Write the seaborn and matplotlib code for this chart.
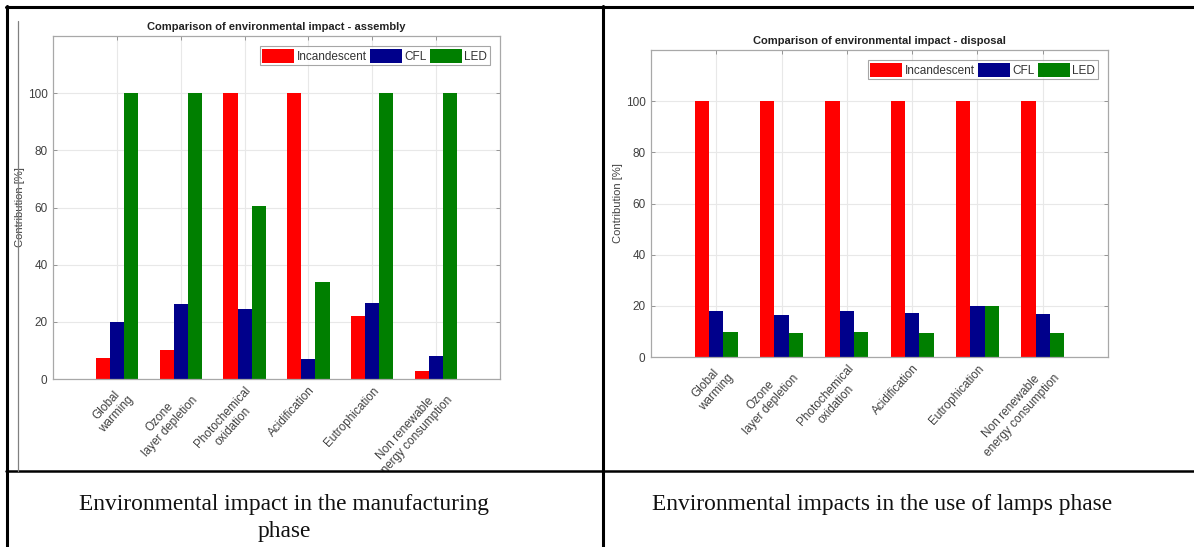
import matplotlib
matplotlib.use("Agg")
import matplotlib.pyplot as plt
from matplotlib.lines import Line2D
from matplotlib.transforms import Bbox
import seaborn as sns
import pandas as pd

# Data
categories = ["Global\nwarming", "Ozone\nlayer depletion", "Photochemical\noxidation",
              "Acidification", "Eutrophication", "Non renewable\nenergy consumption"]
lamps = ["Incandescent", "CFL", "LED"]

assembly_incandescent = [7.5, 10.0, 100.0, 100.0, 22.1, 2.9]
assembly_cfl = [20.1, 26.4, 24.6, 6.9, 26.5, 8.1]
assembly_led = [100.0, 100.0, 60.5, 33.9, 100.0, 100.0]

disposal_incandescent = [100.0, 100.0, 100.0, 100.0, 100.0, 100.0]
disposal_cfl = [17.8, 16.6, 17.8, 17.3, 19.9, 17.0]
disposal_led = [9.9, 9.2, 9.9, 9.5, 19.9, 9.5]

titles = ["Comparison of environmental impact - assembly",
          "Comparison of environmental impact - disposal"]
captions = ["Environmental impact in the manufacturing\nphase",
            "Environmental impacts in the use of lamps phase"]
colors = ["#ff0000", "#00008b", "#007f00"]


def long_table(inc, cfl, led):
    rows = []
    for lamp, vals in zip(lamps, [inc, cfl, led]):
        for cat, v in zip(categories, vals):
            rows.append({"Impact": cat, "Lamp": lamp, "Contribution": v})
    return pd.DataFrame(rows)


sns.set_theme(style="whitegrid")
plt.rcParams["font.family"] = ["Liberation Sans", "DejaVu Sans"]

W, H = 1194, 547
fig = plt.figure(figsize=(W / 100, H / 100), dpi=100)


def px_axes(left, top, right, bottom):
    return fig.add_axes([left / W, 1 - bottom / H, (right - left) / W, (bottom - top) / H])


def draw_panel(ax, df, title, clip_bottom):
    sns.barplot(data=df, x="Impact", y="Contribution", hue="Lamp", hue_order=lamps,
                order=categories, palette=colors, width=0.66, gap=0, saturation=1,
                edgecolor="none", linewidth=0, ax=ax)
    ax.set_xlim(-1, 6)
    ax.set_ylim(0, 120)
    ax.set_yticks([0, 20, 40, 60, 80, 100])
    ax.set_facecolor("white")
    ax.grid(True, color="#e8e8e8", linewidth=0.8)
    ax.set_axisbelow(True)
    for s in ax.spines.values():
        s.set_color("#a8a8a8")
        s.set_linewidth(0.9)
    ax.tick_params(direction="in", length=3, width=0.6, color="#888888",
                   top=True, right=True, bottom=True, left=True,
                   labelsize=8.5, labelcolor="#404040", pad=4)
    ax.set_xlabel("")
    ax.set_ylabel("Contribution [%]", fontsize=8, color="#404040", labelpad=2)
    ax.set_title(title, fontsize=8, fontweight="bold", color="#222222", pad=4)
    ax.set_xticks(range(len(categories)))
    ax.set_xticklabels(categories, rotation=48, ha="right", va="top",
                       rotation_mode="anchor", multialignment="center",
                       fontsize=8.5, color="#404040")
    # the source images were cropped just below the labels
    clip = Bbox([[0, H - clip_bottom], [W, H]])
    for lab in ax.get_xticklabels():
        lab.set_clip_on(True)
        lab.set_clip_box(clip)
    handles, labs = ax.get_legend_handles_labels()
    leg = ax.legend(handles, labs, loc="upper right", ncol=3, fontsize=8.5,
                    frameon=True, fancybox=False, edgecolor="#909090",
                    handlelength=2.7, handleheight=1.45, handletextpad=0.2,
                    columnspacing=0.3, borderpad=0.22, borderaxespad=0.85)
    leg.get_frame().set_linewidth(0.8)
    for t in leg.get_texts():
        t.set_color("#333333")


ax1 = px_axes(53, 36, 500, 379)
draw_panel(ax1, long_table(assembly_incandescent, assembly_cfl, assembly_led), titles[0], 471)

ax2 = px_axes(651, 50, 1108, 357)
draw_panel(ax2, long_table(disposal_incandescent, disposal_cfl, disposal_led), titles[1], 456)


# table frame
def hline(y, x0, x1, lw=2.2, color="black"):
    fig.add_artist(Line2D([x0 / W, x1 / W], [1 - y / H, 1 - y / H], color=color, linewidth=lw))


def vline(x, y0, y1, lw=2.2, color="black"):
    fig.add_artist(Line2D([x / W, x / W], [1 - y0 / H, 1 - y1 / H], color=color, linewidth=lw))


hline(7, 6, W)
hline(471, 6, W, lw=1.8)
vline(7, 6, H)
vline(603, 6, H)
vline(18, 21, 471, lw=0.9, color="#808080")

# captions
fig.text(284 / W, 1 - 494 / H, captions[0], ha="center", va="top", fontsize=16.8,
         family=["Liberation Serif", "DejaVu Serif"], linespacing=1.38, color="#111111")
fig.text(652 / W, 1 - 494 / H, captions[1], ha="left", va="top", fontsize=16.8,
         family=["Liberation Serif", "DejaVu Serif"], color="#111111")

fig.savefig("out.png", dpi=100, facecolor="white")
